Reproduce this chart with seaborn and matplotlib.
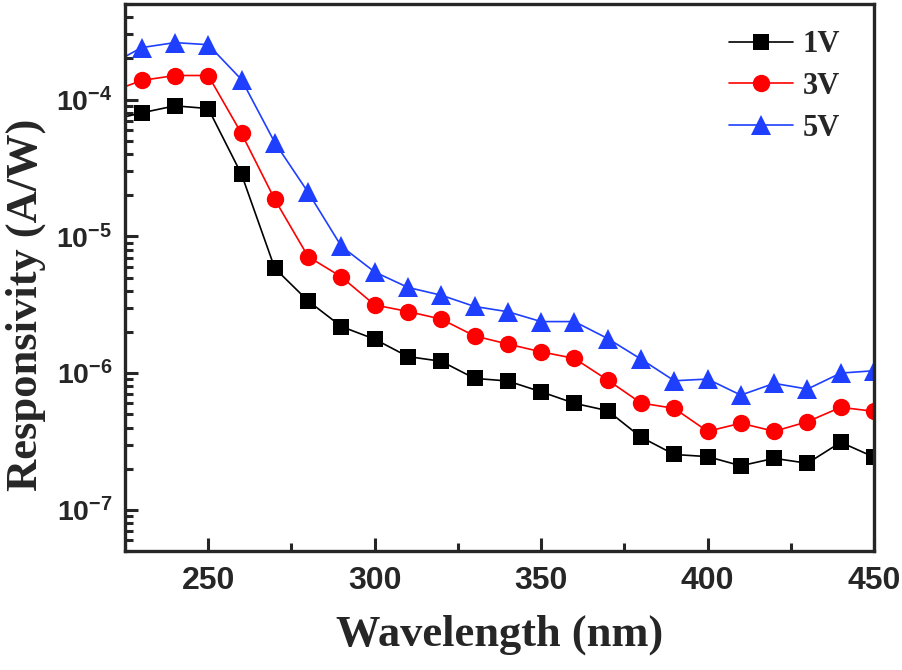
import numpy as np
import pandas as pd
import matplotlib
matplotlib.use("Agg")
import matplotlib.pyplot as plt
import matplotlib.ticker as mticker
import seaborn as sns

# data (responsivity in A/W)
wavelength = [220, 230, 240, 250, 260, 270, 280, 290, 300, 310, 320, 330,
              340, 350, 360, 370, 380, 390, 400, 410, 420, 430, 440, 450]
resp_1v = [7.0e-5, 8.0e-5, 9.0e-5, 8.6e-5, 2.84e-5, 5.84e-6, 3.37e-6, 2.19e-6,
           1.77e-6, 1.32e-6, 1.22e-6, 9.15e-7, 8.75e-7, 7.30e-7, 6.01e-7,
           5.31e-7, 3.40e-7, 2.54e-7, 2.45e-7, 2.10e-7, 2.38e-7, 2.19e-7,
           3.12e-7, 2.43e-7]
resp_3v = [1.12e-4, 1.38e-4, 1.50e-4, 1.50e-4, 5.65e-5, 1.86e-5, 7.11e-6, 5.05e-6,
           3.15e-6, 2.82e-6, 2.48e-6, 1.87e-6, 1.63e-6, 1.43e-6, 1.28e-6,
           8.89e-7, 6.04e-7, 5.52e-7, 3.75e-7, 4.30e-7, 3.75e-7, 4.41e-7,
           5.62e-7, 5.25e-7]
resp_5v = [1.77e-4, 2.40e-4, 2.61e-4, 2.52e-4, 1.40e-4, 4.85e-5, 2.10e-5, 8.45e-6,
           5.49e-6, 4.23e-6, 3.71e-6, 3.07e-6, 2.81e-6, 2.38e-6, 2.38e-6,
           1.79e-6, 1.265e-6, 8.79e-7, 9.04e-7, 6.90e-7, 8.41e-7, 7.64e-7,
           1.00e-6, 1.04e-6]

series = [
    ("1V", resp_1v, "black", "s", 11),
    ("3V", resp_3v, "#FF0000", "o", 12.5),
    ("5V", resp_5v, "#1F3FFF", "^", 14),
]

sns.set_style("ticks")
plt.rcParams["font.family"] = ["Liberation Sans", "DejaVu Sans"]
plt.rcParams["font.weight"] = "bold"
plt.rcParams["axes.linewidth"] = 2.4

fig = plt.figure(figsize=(9.02, 6.70), dpi=100)
ax = fig.add_axes([125 / 902, 1 - 551 / 670, 749 / 902, 547 / 670])

for name, vals, color, marker, ms in series:
    df = pd.DataFrame({"wavelength": wavelength, "resp": vals})
    sns.lineplot(data=df, x="wavelength", y="resp", ax=ax, color=color,
                 marker=marker, markersize=ms, markeredgecolor=color,
                 markeredgewidth=0, linewidth=1.2, label=name, legend=False)

ax.set_yscale("log")
ax.set_xlim(225, 450)
ax.set_ylim(5e-8, 5e-4)

ax.xaxis.set_major_locator(mticker.MultipleLocator(50))
ax.xaxis.set_minor_locator(mticker.MultipleLocator(25))
ax.yaxis.set_major_locator(mticker.LogLocator(base=10, numticks=10))
ax.yaxis.set_minor_locator(mticker.LogLocator(base=10, subs=np.arange(2, 10), numticks=10))
ax.yaxis.set_minor_formatter(mticker.NullFormatter())

ax.tick_params(which="both", direction="in", top=False, right=False, width=2.2)
ax.tick_params(which="major", length=9.5)
ax.tick_params(which="minor", length=5.5)
ax.tick_params(axis="x", which="major", labelsize=23, pad=11)
ax.tick_params(axis="y", which="major", labelsize=20.5, pad=9)

serif = {"family": ["Liberation Serif", "DejaVu Serif"], "weight": "bold"}
ax.set_xlabel("Wavelength (nm)", fontdict=serif, fontsize=32, labelpad=13)
ax.set_ylabel("Responsivity (A/W)", fontdict=serif, fontsize=32)
ax.yaxis.set_label_coords(-0.105, 0.45)

leg = ax.legend(handles=ax.get_lines(), loc="upper left",
                bbox_to_anchor=(0.806, 0.952), frameon=False, borderpad=0,
                borderaxespad=0, handlelength=2.1, handletextpad=0.33,
                labelspacing=0.42,
                prop={"family": ["Liberation Serif", "DejaVu Serif"],
                      "weight": "bold", "size": 22})

fig.savefig("out.png", dpi=100, facecolor="white")
